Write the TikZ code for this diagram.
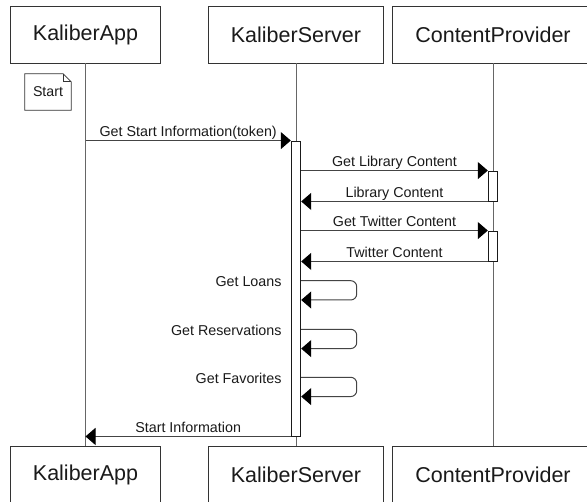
\documentclass[tikz,border=0pt]{standalone}
\usepackage{fontspec}
\setmainfont{Liberation Sans}
\usetikzlibrary{arrows.meta,calc}
\definecolor{boxline}{HTML}{333333}
\definecolor{lifeline}{HTML}{666666}
\definecolor{msgline}{HTML}{444444}
\definecolor{ink}{HTML}{1A1A1A}
\begin{document}
\begin{tikzpicture}[x=1pt,y=-1pt,
  actor/.style={draw=boxline,line width=0.9pt,fill=white,minimum width=#1,minimum height=57pt,
    inner sep=0pt,text=ink,font=\fontsize{21.5}{24}\selectfont},
  actbar/.style={draw=ink,line width=0.9pt,fill=white,minimum width=9.5pt,minimum height=#1,inner sep=0pt},
  life/.style={draw=lifeline,line width=1pt},
  msg/.style={draw=msgline,line width=1pt,-{Triangle[length=10pt,width=17pt,color=black]}},
  lbl/.style={anchor=base,inner sep=0pt,text=ink,font=\fontsize{14.3}{17}\selectfont},
  selflbl/.style={anchor=base east,inner sep=0pt,text=ink,font=\fontsize{14.3}{17}\selectfont},
  notebox/.style={minimum width=46pt,minimum height=36pt,inner sep=0pt,text=ink,font=\fontsize{14.2}{17}\selectfont}
]
\useasboundingbox (0,0) rectangle (587,502);
\fill[white] (0,0) rectangle (587,502);

% participants, top row
\node[actor=150pt] (appT) at (85.5,34.5) {KaliberApp};
\node[actor=175pt] (srvT) at (296,34.5) {KaliberServer};
\node[actor=202pt] (cpT)  at (493,34.5) {ContentProvider};
% participants, bottom row
\node[actor=150pt] (appB) at (85.5,474.5) {KaliberApp};
\node[actor=175pt] (srvB) at (296,474.5) {KaliberServer};
\node[actor=202pt] (cpB)  at (493,474.5) {ContentProvider};

% lifelines
\draw[life] (appT.south) -- (appB.north);
\draw[life] (srvT.south) -- (srvB.north);
\draw[life] (cpT.south) -- (cpB.north);

% activation bars
\node[actbar=295pt] (sbar) at (296,288.5) {};
\node[actbar=30pt] (cbarA) at (493,186) {};
\node[actbar=30pt] (cbarB) at (493,246) {};

% note
\node[notebox] (start) at (48,92) {Start};
\draw[draw=boxline,line width=0.8pt]
  (start.north west) -- ($(start.north east)+(-8,0)$) -- ($(start.north east)+(0,8)$)
  -- (start.south east) -- (start.south west) -- cycle;
\draw[draw=boxline,line width=0.8pt]
  ($(start.north east)+(-8,0)$) -- ($(start.north east)+(-8,8)$) -- ($(start.north east)+(0,8)$);

% request from the app
\draw[msg] (appT.south |- sbar.north) -- coordinate[midway] (m1) (sbar.north west);
\node[lbl] at ($(m1)+(0,-4.3)$) {Get Start Information(token)};

% content provider calls
\draw[msg] (sbar.east |- cbarA.north) -- coordinate[midway] (m2) (cbarA.north west);
\node[lbl] at ($(m2)+(0,-4.3)$) {Get Library Content};
\draw[msg] (cbarA.south west) -- coordinate[midway] (m3) (sbar.east |- cbarA.south);
\node[lbl] at ($(m3)+(0,-4.3)$) {Library Content};
\draw[msg] (sbar.east |- cbarB.north) -- coordinate[midway] (m4) (cbarB.north west);
\node[lbl] at ($(m4)+(0,-4.3)$) {Get Twitter Content};
\draw[msg] (cbarB.south west) -- coordinate[midway] (m5) (sbar.east |- cbarB.south);
\node[lbl] at ($(m5)+(0,-4.3)$) {Twitter Content};

% self calls on the server
\foreach \y/\t in {280.7/Get Loans,329.3/Get Reservations,377.3/Get Favorites}{
  \coordinate (s1) at (sbar.east |- 0,\y);
  \coordinate (s2) at (sbar.east |- 0,\y+19.3);
  \draw[msg,rounded corners=6pt] (s1) -- (356.7,\y) -- (356.7,\y+19.3) -- (s2);
  \node[selflbl] at (281.7,\y+6) {\t};
}

% reply to the app
\draw[msg] (sbar.south west) -- coordinate[midway] (m6) (appT.south |- sbar.south);
\node[lbl] at ($(m6)+(0,-3.8)$) {Start Information};
\end{tikzpicture}
\end{document}
